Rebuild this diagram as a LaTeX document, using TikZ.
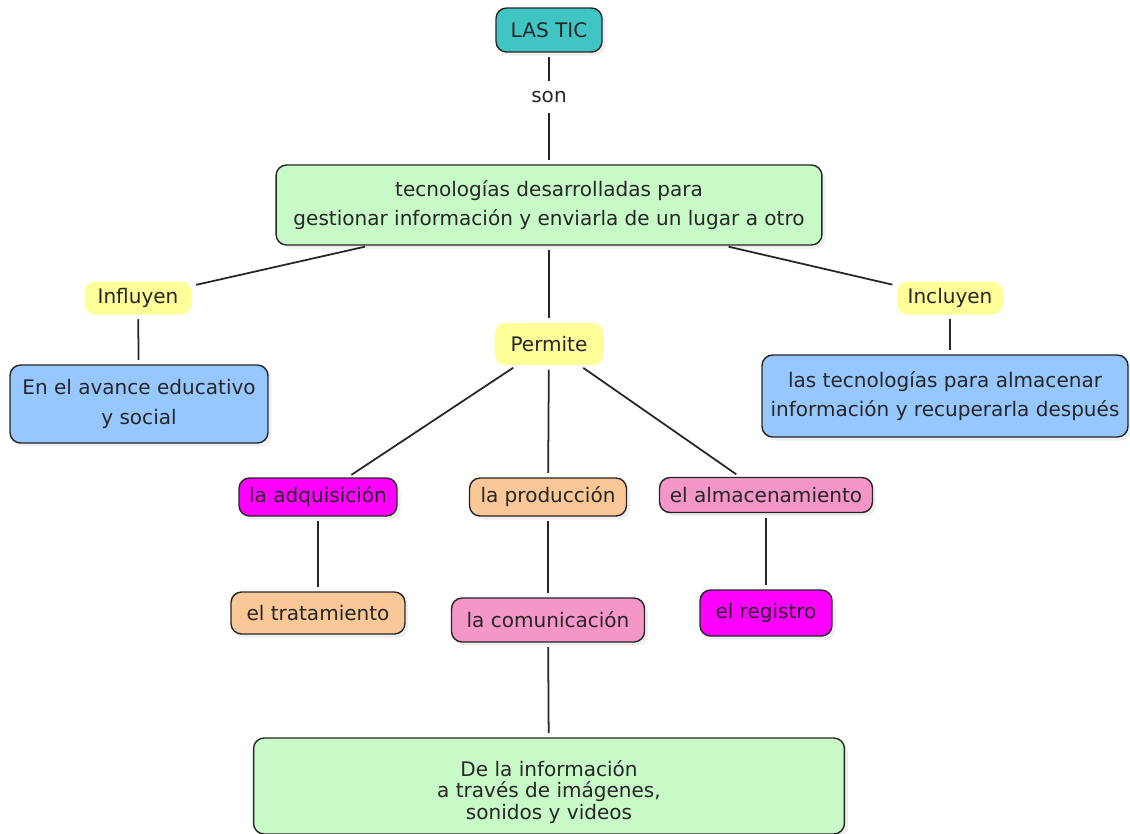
\documentclass[tikz,border=0pt]{standalone}
\usepackage{fontspec}
\setmainfont{DejaVu Sans}
\usetikzlibrary{shadows}
\definecolor{ticteal}{RGB}{64,196,196}
\definecolor{boxgreen}{RGB}{200,250,200}
\definecolor{boxyellow}{RGB}{255,255,153}
\definecolor{boxblue}{RGB}{150,200,255}
\definecolor{boxmagenta}{RGB}{255,0,255}
\definecolor{boxpeach}{RGB}{250,200,150}
\definecolor{boxpink}{RGB}{245,150,200}
\tikzset{
  concept/.style={draw=black!85, line width=0.8pt, rounded corners=6pt, align=center, inner sep=0pt,
    text=black!85, font=\fontsize{11.4}{17}\selectfont,
    drop shadow={opacity=0.12, shadow xshift=2pt, shadow yshift=-2pt}},
  linkword/.style={fill=boxyellow, rounded corners=6pt, align=center, inner sep=0pt,
    text=black!85, font=\fontsize{11.4}{17}\selectfont},
  conn/.style={draw=black!85, line width=1pt, shorten <=2.5pt, shorten >=2.5pt}
}

\begin{document}
\begin{tikzpicture}[x=0.02cm, y=-0.02cm]
		%%%%% START %%%%%
		\useasboundingbox[fill=white] (0, 0) rectangle (1130, 833);
		
		\node[concept, fill=ticteal, minimum width=2.12cm, minimum height=0.88cm] (tic) at (549, 30) {LAS TIC};
		\node[text=black!85, font=\fontsize{11.4}{17}\selectfont] (son) at (549, 97) {son};
		\node[concept, fill=boxgreen, minimum width=10.92cm, minimum height=1.6cm] (tecno) at (549, 205)
			{tecnologías desarrolladas para\\gestionar información y enviarla de un lugar a otro};
		
		\node[linkword, minimum width=2.14cm, minimum height=0.66cm] (influyen) at (138, 298) {Influyen};
		\node[linkword, minimum width=2.12cm, minimum height=0.66cm] (incluyen) at (950, 298) {Incluyen};
		\node[linkword, minimum width=2.18cm, minimum height=0.84cm] (permite) at (549, 344) {Permite};
		
		\node[concept, fill=boxblue, minimum width=5.16cm, minimum height=1.56cm] (avance) at (139, 404)
			{En el avance educativo\\y social};
		\node[concept, fill=boxblue, minimum width=7.32cm, minimum height=1.64cm] (almacenar) at (945, 396)
			{las tecnologías para almacenar\\información y recuperarla después};
		
		\node[concept, fill=boxmagenta, minimum width=3.16cm, minimum height=0.76cm] (adquis) at (318, 497) {la adquisición};
		\node[concept, fill=boxpeach, minimum width=3.14cm, minimum height=0.76cm] (produc) at (548, 497) {la producción};
		\node[concept, fill=boxpink, minimum width=4.26cm, minimum height=0.7cm] (almacen) at (766, 495) {el almacenamiento};
		
		\node[concept, fill=boxpeach, minimum width=3.48cm, minimum height=0.84cm] (tratam) at (318, 613) {el tratamiento};
		\node[concept, fill=boxpink, minimum width=3.86cm, minimum height=0.88cm] (comunic) at (548, 620) {la comunicación};
		\node[concept, fill=boxmagenta, minimum width=2.64cm, minimum height=0.92cm] (registro) at (766, 613) {el registro};
		
		\node[concept, fill=boxgreen, minimum width=11.82cm, minimum height=1.92cm] (info) at (549, 786) {};
		\node[align=center, text=black!85, font=\fontsize{11.4}{12.2}\selectfont] (infotext) at (549, 792)
			{De la información\\a través de imágenes,\\sonidos y videos};
		
		% connectors
		\draw[conn] (tic) -- (son);
		\draw[conn] (son) -- (tecno);
		\draw[conn] (tecno) -- (influyen);
		\draw[conn] (tecno) -- (incluyen);
		\draw[conn] (tecno) -- (permite);
		\draw[conn] (influyen) -- (avance);
		\draw[conn] (incluyen) -- (almacenar.north -| incluyen);
		\draw[conn] (permite) -- (adquis);
		\draw[conn] (permite) -- (produc);
		\draw[conn] (permite) -- (almacen);
		\draw[conn] (adquis) -- (tratam);
		\draw[conn] (produc) -- (comunic);
		\draw[conn] (almacen) -- (registro);
		\draw[conn] (comunic) -- (info);
		%%%%% END %%%%%
	\end{tikzpicture}
\end{document}
